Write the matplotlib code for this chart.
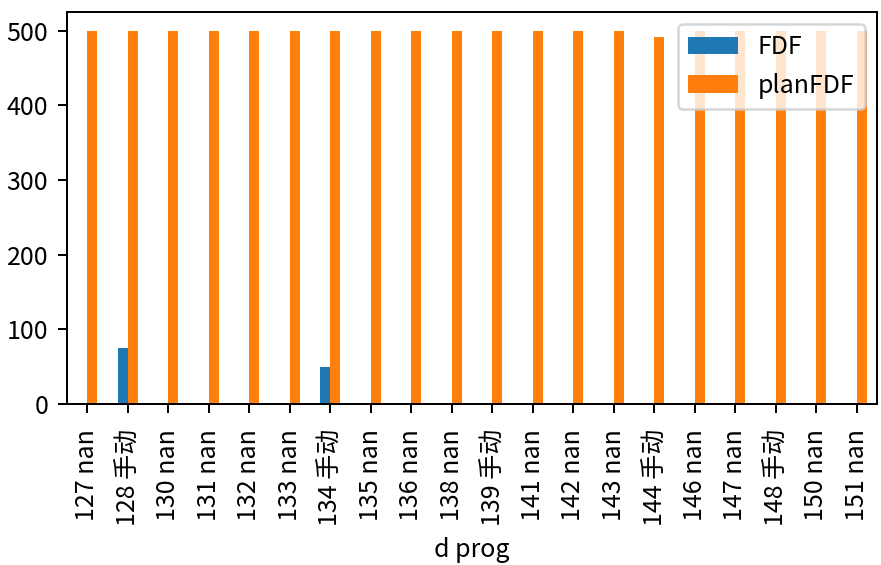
import matplotlib
matplotlib.use("Agg")
import matplotlib.pyplot as plt
import numpy as np

plt.rcParams['font.family'] = ['Noto Sans CJK SC', 'DejaVu Sans']
plt.rcParams['font.size'] = 10
plt.rcParams['axes.unicode_minus'] = False

d_vals = ["127", "128", "130", "131", "132", "133", "134", "135", "136", "138",
          "139", "141", "142", "143", "144", "146", "147", "148", "150", "151"]
prog_vals = ["nan", "手动", "nan", "nan", "nan", "nan", "手动", "nan", "nan", "nan",
             "手动", "nan", "nan", "nan", "手动", "nan", "nan", "手动", "nan", "nan"]
fdf = [0, 75, 0, 0, 0, 0, 50, 0, 0, 0, 0, 0, 0, 0, 0, 0, 0, 0, 0, 0]
plan_fdf = [500, 500, 500, 500, 500, 500, 500, 500, 500, 500,
            500, 500, 500, 500, 492, 500, 500, 500, 500, 500]

labels = [f"{d} {p}" for d, p in zip(d_vals, prog_vals)]

fig = plt.figure(figsize=(881 / 180, 565 / 180), dpi=180)
ax = fig.add_axes([0.0760, 0.2850, 0.9195, 0.6938])

x = np.arange(len(labels))
w = 0.25
ax.bar(x - w / 2, fdf, width=w, color='#1f77b4', label='FDF')
ax.bar(x + w / 2, plan_fdf, width=w, color='#ff7f0e', label='planFDF')

ax.set_xlim(-0.5, len(labels) - 0.5)
ax.set_ylim(0, 525)
ax.set_yticks([0, 100, 200, 300, 400, 500])
ax.set_xticks(x)
ax.set_xticklabels(labels, rotation=90)
ax.tick_params(axis='x', pad=6.5)
ax.tick_params(axis='y', pad=4.0)
ax.set_xlabel('d prog', labelpad=4.5)
ax.legend(loc='upper right')

fig.savefig('out.png', dpi=180)
